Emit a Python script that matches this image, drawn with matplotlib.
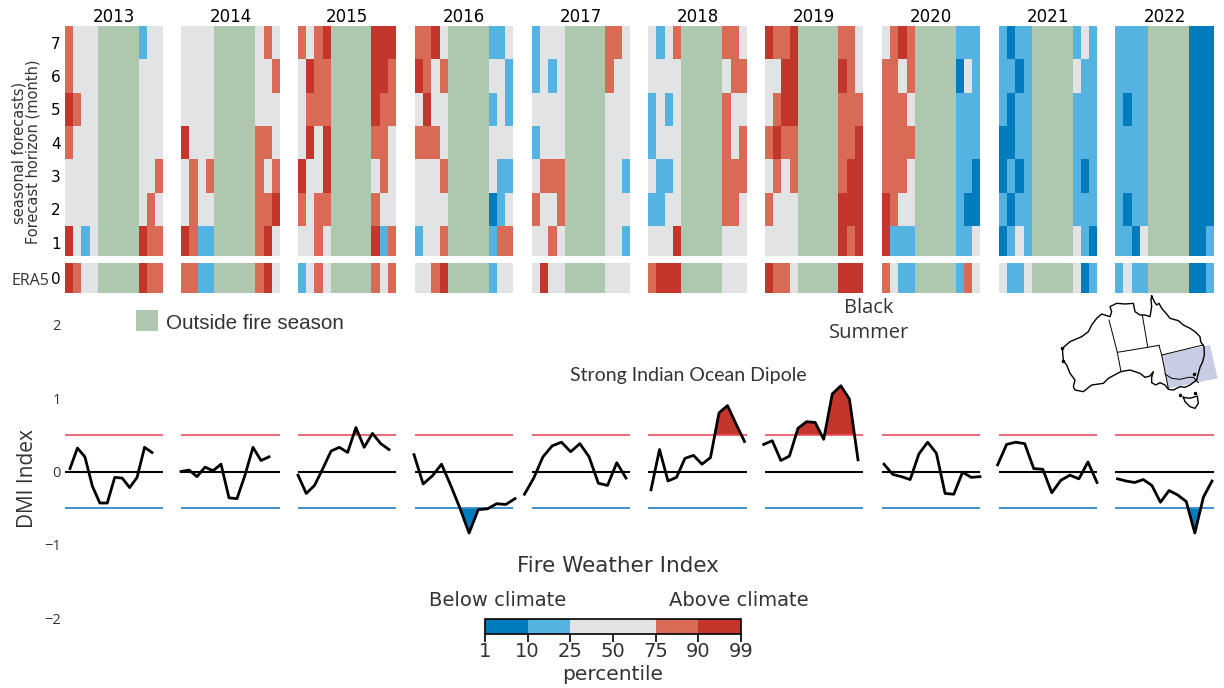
import numpy as np
import matplotlib
matplotlib.use("Agg")
import matplotlib.pyplot as plt
from matplotlib.colors import ListedColormap, BoundaryNorm
from matplotlib.cm import ScalarMappable

W, H = 1224, 688

years = [2013, 2014, 2015, 2016, 2017, 2018, 2019, 2020, 2021, 2022]

# percentile class per month, rows are forecast horizon 7 down to 1
# D <10, B 10-25, . 25-75, r 75-90, R >90, | = the months outside fire season
fwi_2013 = ["r...|B..", "r...|...", "Rr..|...", "r...|...", "....|..r", "....|.r.", "R.B.|Rrr"]
fwi_2014 = ["....|.r.", "....|..r", "....|...", "R...|rr.", ".r.r|r.r", ".r..|rrR", "RrBB|rR."]
fwi_2015 = ["r.rR|RRR", ".Rrr|RRr", ".rrr|Rrr", ".R.R|rr.", "R..R|.r.", "r.rr|r..", "..r.|RBr"]
fwi_2016 = ["rrR.|BB.", "Rr.r|..B", ".R..|B.B", "rrr.|...", "...r|.BB", "....|DB.", "B..r|Brr"]
fwi_2017 = ["B...|rr.", "B.B.|r..", "....|...", "B...|...", ".rrr|..B", "r..r|...", "..r.|..B"]
fwi_2018 = [".B.r|rr.", "....|.rr", "B.B.|r..", "B...|r.r", ".BB.|rrr", "BB..|rr.", "...R|..."]
fwi_2019 = ["RrrR|rr.", "..RR|Rr.", ".rRR|rrr", "rRrr|rrR", ".r.r|rRR", "r...|RRR", "....|RrR"]
fwi_2020 = [".rRr|BBB", "rr.r|D.B", "rrr.|BBB", "rrrr|BBB", "rrr.|BBD", "Rr..|BDD", "RBBB|BB."]
fwi_2021 = ["BDBB|B.B", "BBDB|.BB", "BDBB|BBB", "DDBB|BBB", "DBDB|BDB", "BDBB|BBB", "DB.B|.BD"]
fwi_2022 = ["BBBB|DDD", "BBBB|DDD", "BDBB|DDD", "BBBB|DDD", "BBBB|DDD", "BDBB|DDD", "BBD.|DDB"]
fwi_all = [fwi_2013, fwi_2014, fwi_2015, fwi_2016, fwi_2017, fwi_2018, fwi_2019, fwi_2020, fwi_2021, fwi_2022]

era5 = ["Rr..|Rrr", "rrBB|rR.", "B.r.|r.r", "..rR|B..", ".R..|...", "rRRR|...", "Rrr.|RRR", "r.BB|Br.", ".BB.|.DB", "B.BB|DDB"]

dmi_2013 = [0.04, 0.32, 0.20, -0.20, -0.43, -0.43, -0.08, -0.09, -0.22, -0.08, 0.33, 0.26]
dmi_2014 = [0.00, 0.02, -0.07, 0.06, 0.01, 0.10, -0.36, -0.37, -0.05, 0.33, 0.15, 0.20]
dmi_2015 = [-0.05, -0.30, -0.19, 0.04, 0.28, 0.33, 0.26, 0.60, 0.33, 0.52, 0.38, 0.30]
dmi_2016 = [0.23, -0.17, -0.06, 0.10, -0.19, -0.50, -0.84, -0.52, -0.51, -0.44, -0.45, -0.37]
dmi_2017 = [-0.31, -0.09, 0.20, 0.35, 0.40, 0.27, 0.38, 0.20, -0.16, -0.19, 0.12, -0.09]
dmi_2018 = [-0.25, 0.30, -0.13, -0.08, 0.18, 0.22, 0.10, 0.19, 0.80, 0.90, 0.65, 0.41]
dmi_2019 = [0.37, 0.42, 0.15, 0.21, 0.59, 0.68, 0.67, 0.44, 1.06, 1.17, 0.99, 0.16]
dmi_2020 = [0.10, -0.04, -0.07, -0.11, 0.24, 0.40, 0.25, -0.30, -0.31, -0.01, -0.08, -0.07]
dmi_2021 = [0.09, 0.37, 0.40, 0.38, 0.04, 0.03, -0.29, -0.12, -0.05, -0.10, 0.13, -0.15]
dmi_2022 = [-0.10, -0.13, -0.15, -0.11, -0.19, -0.42, -0.26, -0.32, -0.41, -0.84, -0.35, -0.13]
dmi_all = [dmi_2013, dmi_2014, dmi_2015, dmi_2016, dmi_2017, dmi_2018, dmi_2019, dmi_2020, dmi_2021, dmi_2022]

percentile_ticks = [1, 10, 25, 50, 75, 90, 99]

# Australia outline in pixels from the picture, x 3, measured from (1040, 285)
coast_x = [335, 343, 350, 357, 365, 380, 390, 415, 430, 450, 465, 480, 482, 492, 493, 488, 480, 475, 470, 450, 435, 420, 400, 385, 375, 360, 347, 335, 335, 340, 330, 315, 300, 270, 242, 205, 190, 155, 130, 105, 100, 105, 90, 80, 70, 67, 90, 125, 145, 155, 170, 185, 210, 215, 210, 230, 255, 280, 285, 300, 315, 330, 335, 333, 335]
coast_y = [33, 50, 60, 55, 70, 87, 100, 107, 120, 130, 140, 155, 170, 185, 210, 230, 247, 265, 285, 300, 307, 305, 315, 313, 300, 293, 300, 293, 277, 260, 273, 277, 265, 255, 260, 280, 295, 300, 320, 315, 305, 285, 265, 240, 227, 190, 170, 155, 140, 120, 100, 87, 95, 80, 65, 55, 57, 55, 80, 90, 90, 95, 65, 45, 33]
tas_x = [430, 450, 472, 475, 465, 450, 435, 430]
tas_y = [337, 340, 333, 355, 370, 365, 350, 337]
dots_x = [70, 67, 420, 465, 463]
dots_y = [227, 190, 330, 323, 267]
border_lines_x = [[207, 232, 243], [307, 323], [232, 323, 357], [357, 365, 385], [365, 490], [375, 395, 420, 445, 460, 475]]
border_lines_y = [[105, 202, 260], [90, 185], [202, 187, 181], [181, 210, 310], [210, 180], [267, 280, 283, 277, 277, 293]]
region_x = [365, 510, 533, 385]
region_y = [210, 180, 280, 310]

C_DBLUE = "#007cbd"
C_BLUE = "#54b3e0"
C_GREY = "#e2e3e5"
C_LRED = "#d96a56"
C_DRED = "#c4352b"
C_GREEN = "#aec8af"
C_TEXT = "#333333"

codes = {"D": 0, "B": 1, ".": 2, "r": 3, "R": 4, "G": 5}
cell_cmap = ListedColormap([C_DBLUE, C_BLUE, C_GREY, C_LRED, C_DRED, C_GREEN])
cell_norm = BoundaryNorm(np.arange(-0.5, 6.5), 6)

# panel left/right edges and where the DMI curve of that year starts/ends (pixels)
panel_left = [65, 181, 298, 415, 532, 648, 765, 882, 999, 1115]
panel_right = [163, 280, 396, 513, 630, 747, 863, 980, 1097, 1214]
dmi_start = [70, 181, 298, 414, 524.5, 651, 763.7, 884, 997.6, 1117.5]
dmi_end = [152, 269, 389, 515, 626, 744.5, 858, 980, 1097, 1212]


def px_ax(x0, y0, x1, y1):
    ax = fig.add_axes([x0 / W, 1 - y1 / H, (x1 - x0) / W, (y1 - y0) / H])
    ax.patch.set_alpha(0)
    for s in ax.spines.values():
        s.set_visible(False)
    return ax


def px_text(x, y, s, **kw):
    kw.setdefault("ha", "center")
    kw.setdefault("va", "center")
    kw.setdefault("color", C_TEXT)
    fig.text(x / W, 1 - y / H, s, **kw)


def row_codes(row):
    return [codes[c] for c in row.replace("|", "GGGGG")]


fig = plt.figure(figsize=(W / 100, H / 100), dpi=100)

for i, year in enumerate(years):
    # forecast horizons
    ax = px_ax(panel_left[i], 26, panel_right[i], 256)
    grid = np.array([row_codes(r) for r in fwi_all[i][::-1]])
    ax.pcolormesh(np.arange(13), np.arange(0.5, 8), grid, cmap=cell_cmap, norm=cell_norm)
    ax.set_ylim(0.6, 7.5)
    ax.set_xticks([])
    ax.set_yticks(range(1, 8) if i == 0 else [])
    ax.tick_params(length=0, labelsize=11, pad=3)
    ax.set_title(str(year), fontsize=12, pad=3)

    # ERA5 strip
    ax = px_ax(panel_left[i], 263, panel_right[i], 293)
    ax.pcolormesh(np.arange(13), [-0.5, 0.5], np.array([row_codes(era5[i])]), cmap=cell_cmap, norm=cell_norm)
    ax.set_xticks([])
    ax.set_yticks([0] if i == 0 else [])
    ax.tick_params(length=0, labelsize=11, pad=3)

    # DMI
    ax = px_ax(panel_left[i], 325, panel_right[i], 618)
    scale = (dmi_end[i] - dmi_start[i]) / 11
    ax.set_xlim((panel_left[i] - dmi_start[i]) / scale, (panel_right[i] - dmi_start[i]) / scale)
    ax.set_ylim(-2, 2)
    months = np.arange(12)
    dmi = np.array(dmi_all[i])
    ax.axhline(0.5, color="#e8505f", lw=1.2)
    ax.axhline(-0.5, color="#1f7fc4", lw=1.2)
    ax.axhline(0, color="black", lw=1.5)
    ax.fill_between(months, 0.5, dmi, where=dmi > 0.5, interpolate=True, color=C_DRED, lw=0, clip_on=False)
    ax.fill_between(months, -0.5, dmi, where=dmi < -0.5, interpolate=True, color=C_DBLUE, lw=0, clip_on=False)
    ax.plot(months, dmi, color="black", lw=2.0, clip_on=False)
    ax.set_xticks([])
    if i == 0:
        ax.set_yticks([-2, -1, 0, 1, 2])
        ax.set_yticklabels(["\u22122", "\u22121", "0", "1", "2"], family="Open Sans", color=C_TEXT)
        ax.tick_params(length=0, labelsize=10.5, pad=3)
    else:
        ax.set_yticks([])

px_text(19, 153, "seasonal forecasts)", rotation=90, fontsize=10.5)
px_text(33, 152, "Forecast horizon (month)", rotation=90, fontsize=10.5)
px_text(30, 281, "ERA5", family="Open Sans", fontsize=11.5)
px_text(28, 479, "DMI Index", rotation=90, family="Open Sans", fontsize=15)

# fire season key
ax = px_ax(136, 310, 158, 331)
ax.set_facecolor(C_GREEN)
ax.patch.set_alpha(1)
ax.set_xticks([])
ax.set_yticks([])
px_text(166, 324, "Outside fire season", ha="left", family="Liberation Sans", fontsize=14.9)

px_text(869, 308, "Black", family="Open Sans", fontsize=14.5)
px_text(869, 333, "Summer", family="Open Sans", fontsize=14.5)
px_text(688, 375, "Strong Indian Ocean Dipole", family="Lato", fontsize=14)

px_text(618, 566, "Fire Weather Index", fontsize=15.5)
px_text(498, 600, "Below climate", fontsize=14)
px_text(739, 600, "Above climate", fontsize=14)

# percentile colour bar
cax = px_ax(485, 619, 741, 634)
bar_cmap = ListedColormap([C_DBLUE, C_BLUE, C_GREY, C_GREY, C_LRED, C_DRED])
bar_norm = BoundaryNorm(percentile_ticks, 6)
cb = fig.colorbar(ScalarMappable(norm=bar_norm, cmap=bar_cmap), cax=cax, orientation="horizontal",
                  spacing="uniform", ticks=percentile_ticks)
cb.outline.set_visible(True)
cb.outline.set_linewidth(1.2)
cb.ax.tick_params(length=6, width=1.2, labelsize=14, pad=0, labelcolor=C_TEXT)
cb.set_label("percentile", fontsize=14.5, color=C_TEXT, labelpad=3)

# locator map
m = px_ax(1040, 285, 1224, 415)
m.set_xlim(0, 552)
m.set_ylim(390, 0)
m.fill(region_x, region_y, color="#c9cde3", lw=0)
m.plot(coast_x, coast_y, color="black", lw=1.0)
m.plot(tas_x, tas_y, color="black", lw=1.0)
m.plot(dots_x, dots_y, "o", color="black", ms=1.5)
for bx, by in zip(border_lines_x, border_lines_y):
    m.plot(bx, by, color="black", lw=0.7)
m.set_xticks([])
m.set_yticks([])

fig.savefig("out.png", dpi=100)
